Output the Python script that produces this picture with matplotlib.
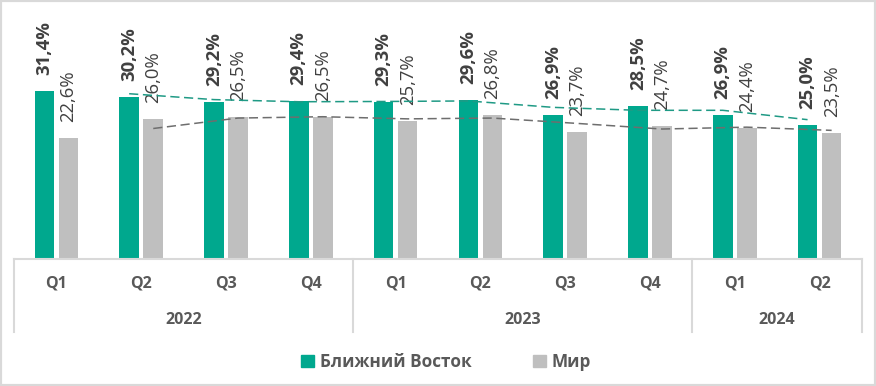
import matplotlib
matplotlib.use("Agg")
import matplotlib.pyplot as plt
import matplotlib.transforms as mtransforms
from matplotlib.lines import Line2D
from matplotlib.patches import Patch, Rectangle
import numpy as np

plt.rcParams["font.family"] = ["Open Sans", "DejaVu Sans"]

quarters = ["Q1", "Q2", "Q3", "Q4", "Q1", "Q2", "Q3", "Q4", "Q1", "Q2"]
years = ["2022", "2023", "2024"]
year_counts = [4, 4, 2]
middle_east = [31.4, 30.2, 29.2, 29.4, 29.3, 29.6, 26.9, 28.5, 26.9, 25.0]
world = [22.6, 26.0, 26.5, 26.5, 25.7, 26.8, 23.7, 24.7, 24.4, 23.5]

GREEN = "#00A88E"
GREY = "#BFBFBF"
TEXT = "#404040"
AXIS_TEXT = "#595959"
FRAME = "#D9D9D9"


def fmt(v):
    return f"{v:.1f}%".replace(".", ",")


def moving_avg(vals, n=2):
    vals = np.asarray(vals)
    return np.convolve(vals, np.ones(n) / n, mode="valid")


fig = plt.figure(figsize=(8.76, 3.86), dpi=100)
ax = fig.add_axes([14 / 876, 1 - 258.5 / 386, 848 / 876, 240.75 / 386])

x = np.arange(len(quarters))
w = 0.23
off = 0.142
ax.bar(x - off, middle_east, w, color=GREEN, zorder=2)
ax.bar(x + off, world, w, color=GREY, zorder=2)

for xi, v in zip(x - off, middle_east):
    ax.annotate(fmt(v), (xi, v), xytext=(0, 11.5), textcoords="offset points",
                rotation=90, ha="center", va="bottom", fontsize=13.3,
                fontweight="bold", color=TEXT)
for xi, v in zip(x + off, world):
    ax.annotate(fmt(v), (xi, v), xytext=(0, 11.5), textcoords="offset points",
                rotation=90, ha="center", va="bottom", fontsize=13.3,
                color=TEXT)

# trend lines (2-period moving average)
ax.plot(x[1:] - off, moving_avg(middle_east), color="#1F9A85", lw=1.1,
        ls=(0, (6, 3)), zorder=3)
ax.plot(x[1:] + off, moving_avg(world), color="#6E6E6E", lw=1.1,
        ls=(0, (6, 3)), zorder=3)

ax.set_xlim(-0.5, len(quarters) - 0.5)
ax.set_ylim(0, 45)
ax.axis("off")

# category axis
trans = mtransforms.blended_transform_factory(ax.transData, fig.transFigure)
y_top = 1 - 258.5 / 386
y_bot = 1 - 332 / 386
fig.add_artist(Line2D([-0.5, len(quarters) - 0.5], [y_top, y_top],
                      transform=trans, color=FRAME, lw=1.5))
bounds = np.concatenate([[0], np.cumsum(year_counts)]) - 0.5
for b in bounds:
    fig.add_artist(Line2D([b, b], [y_top, y_bot], transform=trans,
                          color=FRAME, lw=1.5))
for xi, q in zip(x, quarters):
    fig.text(xi, 1 - 283 / 386, q, transform=trans, ha="center", va="center",
             fontsize=11.5, fontweight="bold", color=AXIS_TEXT)
for i, yr in enumerate(years):
    fig.text((bounds[i] + bounds[i + 1]) / 2, 1 - 320 / 386, yr,
             transform=trans, ha="center", va="center", fontsize=11.5,
             fontweight="bold", color=AXIS_TEXT)

handles = [Patch(color=GREEN, label="Ближний Восток"),
           Patch(color=GREY, label="Мир")]
fig.legend(handles=handles, loc="center", bbox_to_anchor=(0.509, 1 - 362 / 386),
           ncol=2, frameon=False, handlelength=0.75, handleheight=0.75,
           handletextpad=0.35, columnspacing=3.6,
           prop={"size": 12.3, "weight": "bold"}, labelcolor=AXIS_TEXT)

fig.add_artist(Rectangle((0, 0), 1, 1, transform=fig.transFigure, fill=False,
                         edgecolor=FRAME, lw=3))

fig.savefig("out.png", dpi=100)
